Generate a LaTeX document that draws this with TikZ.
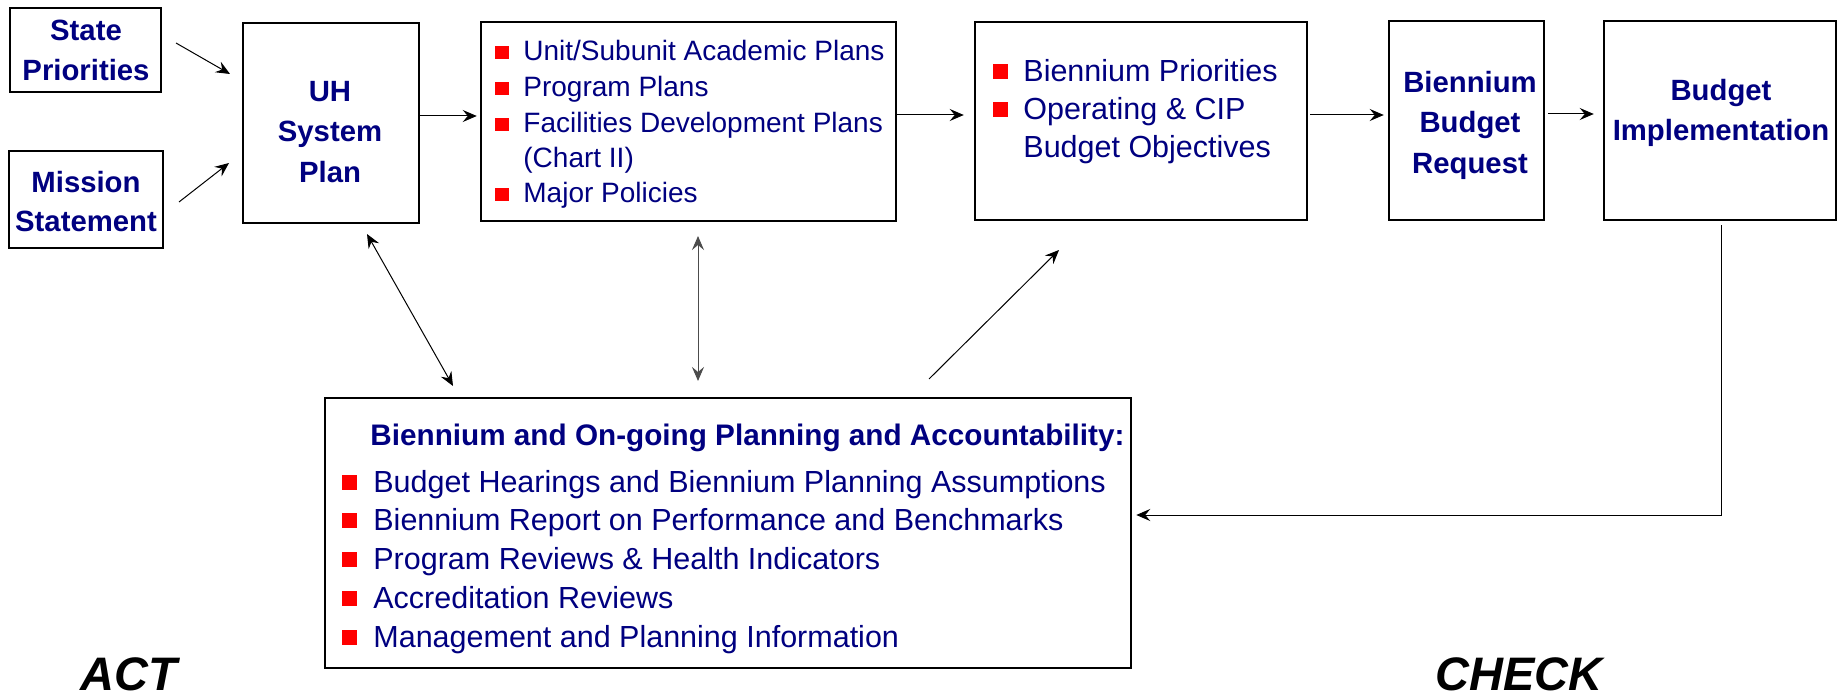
\documentclass[tikz,border=0pt]{standalone}
\usepackage{fontspec}
\setmainfont{Liberation Sans}
\usetikzlibrary{arrows.meta}
\definecolor{navy}{RGB}{0,0,128}
\definecolor{bulletred}{RGB}{255,0,0}

\begin{document}
\begin{tikzpicture}[x=0.5pt,y=-0.5pt]
\tikzset{
  frame/.style 2 args={draw, line width=1.25pt, inner sep=0pt,
    minimum width=#1*0.5pt, minimum height=#2*0.5pt},
  head/.style={font=\bfseries\fontsize{14.65}{17}\selectfont, text=navy,
    inner sep=0pt, anchor=base},
  title/.style={font=\bfseries\fontsize{14.85}{17}\selectfont, text=navy,
    inner sep=0pt, anchor=base west},
  item/.style={font=\fontsize{15.25}{19}\selectfont, text=navy,
    inner sep=0pt, anchor=base west},
  smallitem/.style={font=\fontsize{14}{17}\selectfont, text=navy,
    inner sep=0pt, anchor=base west},
  sq/.style={fill=bulletred, inner sep=0pt, minimum size=7.5pt},
  smallsq/.style={fill=bulletred, inner sep=0pt, minimum width=7pt, minimum height=6.3pt},
  tip/.tip={Stealth[length=7pt,width=6pt,inset=2.5pt]},
  link/.style={line width=0.5pt, -tip},
  twoway/.style={line width=0.5pt, tip-tip},
  phase/.style={font=\bfseries\itshape\fontsize{23.5}{28}\selectfont,
    inner sep=0pt, anchor=base west}
}
\useasboundingbox (0,0) rectangle (1842,700);

% boxes
\node[frame={151}{84}]  (state)   at (85.5,50)   {};
\node[frame={154}{97}]  (mission) at (86,199.5)  {};
\node[frame={176}{200}] (uh)      at (331,123)   {};
\node[frame={415}{199}] (plans)   at (688.5,121.5) {};
\node[frame={332}{198}] (prio)    at (1141,121)  {};
\node[frame={155}{199}] (req)     at (1466.5,120.5) {};
\node[frame={232}{199}] (impl)    at (1720,120.5) {};
\node[frame={806}{270}] (acct)    at (728,533)   {};

% box headings
\node[head] (st1) at (86,41)  {State};
\node[head] (st2) at (86,81)  {Priorities};
\node[head] (mi1) at (86,193) {Mission};
\node[head] (mi2) at (86,232) {Statement};
\node[head] (uh1) at (330,102) {UH};
\node[head] (uh2) at (330,142) {System};
\node[head] (uh3) at (330,183) {Plan};
\node[head] (rq1) at (1470,93)  {Biennium};
\node[head] (rq2) at (1470,133) {Budget};
\node[head] (rq3) at (1470,174) {Request};
\node[head] (im1) at (1721,101) {Budget};
\node[head] (im2) at (1721,141) {Implementation};

% plans list
\node[smallitem] (pl1) at (523,61)  {Unit/Subunit Academic Plans};
\node[smallitem] (pl2) at (523,97)  {Program Plans};
\node[smallitem] (pl3) at (523,133) {Facilities Development Plans};
\node[smallitem] (pl4) at (523,168) {(Chart II)};
\node[smallitem] (pl5) at (523,203) {Major Policies};
\foreach \y/\n in {61/1,97/2,133/3,203/5}
  \node[smallsq] (plb\n) at (502,\y-8.5) {};

% priorities list
\node[item] (pr1) at (1023,82)  {Biennium Priorities};
\node[item] (pr2) at (1023,120) {Operating \& CIP};
\node[item] (pr3) at (1023,158) {Budget Objectives};
\foreach \y/\n in {82/1,120/2}
  \node[sq] (prb\n) at (1000,\y-10) {};

% accountability list
\node[title] (ac0) at (370,445) {Biennium and On-going Planning and Accountability:};
\node[item] (ac1) at (373,492)    {Budget Hearings and Biennium Planning Assumptions};
\node[item] (ac2) at (373,530.75) {Biennium Report on Performance and Benchmarks};
\node[item] (ac3) at (373,569.5)  {Program Reviews \& Health Indicators};
\node[item] (ac4) at (373,608.25) {Accreditation Reviews};
\node[item] (ac5) at (373,647)    {Management and Planning Information};
\foreach \y/\n in {492/1,530.75/2,569.5/3,608.25/4,647/5}
  \node[sq] (acb\n) at (349.5,\y-10) {};

% cycle phases
\node[phase] (act)   at (80,690)   {ACT};
\node[phase] (check) at (1435,690) {CHECK};

% free connector ends
\coordinate (stA) at (176,43);   \coordinate (stB) at (230,74);
\coordinate (miA) at (179,202);  \coordinate (miB) at (229,163);
\coordinate (uhA) at (367,234);  \coordinate (uhB) at (453,386);
\coordinate (plA) at (698,236);  \coordinate (plB) at (698,381);
\coordinate (acA) at (929,379);  \coordinate (acB) at (1059,250);

% connectors
\draw[link] (stA) -- (stB);
\draw[link] (miA) -- (miB);
\draw[link, shorten >=1.5pt] (uh.east |- 0,116) -- (plans.west |- 0,116);
\draw[link, shorten >=5pt] (plans.east |- 0,115) -- (prio.west |- 0,115);
\draw[link, shorten <=1pt, shorten >=2pt] (prio.east |- 0,115) -- (req.west |- 0,115);
\draw[link, shorten <=1.5pt, shorten >=4.5pt] (req.east |- 0,114) -- (impl.west |- 0,114);
\draw[twoway] (uhA) -- (uhB);
\draw[twoway, black!70] (plA) -- (plB);
\draw[link] (acA) -- (acB);
\draw[link, shorten <=2pt, shorten >=2pt] ([xshift=0.5pt]impl.south) |- (acct.east |- 0,515);
\end{tikzpicture}
\end{document}
